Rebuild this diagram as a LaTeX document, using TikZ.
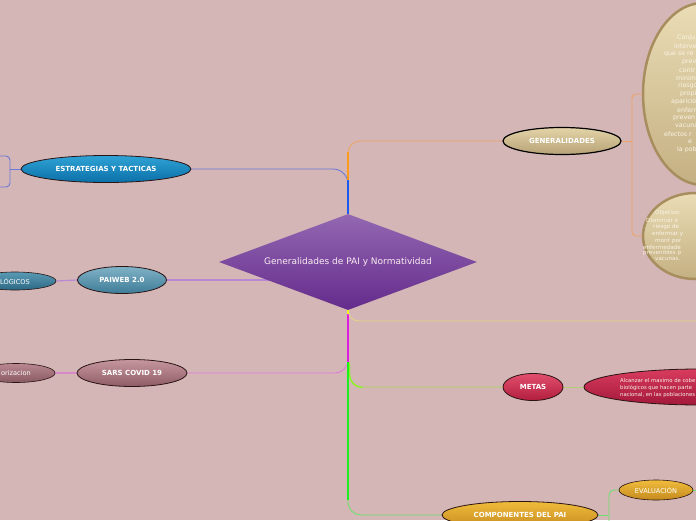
\documentclass[tikz,border=0pt]{standalone}
\usepackage{fontspec}
\setmainfont{DejaVu Sans}
\usetikzlibrary{shapes.geometric}
\pgfdeclarelayer{bg}
\pgfsetlayers{bg,main}
\definecolor{bgc}{HTML}{D4B6B6}
\definecolor{dtop}{HTML}{9368B2}
\definecolor{dbot}{HTML}{642B8C}
\definecolor{cBlue}{HTML}{1E5AF0}
\definecolor{cBlueL}{HTML}{6C78D8}
\definecolor{cOra}{HTML}{FF9A1A}
\definecolor{cOraL}{HTML}{EEA468}
\definecolor{cMag}{HTML}{E01EE0}
\definecolor{cMagL}{HTML}{E07AD8}
\definecolor{cYel}{HTML}{F2F21E}
\definecolor{cYelL}{HTML}{E4D488}
\definecolor{cGrn}{HTML}{1EF01E}
\definecolor{cGrnL}{HTML}{6EE06E}
\definecolor{cYG}{HTML}{88F428}
\definecolor{cYGL}{HTML}{B4CC74}
\definecolor{cPur}{HTML}{B888D4}
\definecolor{cPnk}{HTML}{D88AC8}
\definecolor{txtc}{HTML}{FAF4E6}
\definecolor{estT}{HTML}{2FA3D6}
\definecolor{estB}{HTML}{0B6FA8}
\definecolor{paiT}{HTML}{80B2C6}
\definecolor{paiB}{HTML}{3E7C98}
\definecolor{logT}{HTML}{5A9AB5}
\definecolor{logB}{HTML}{2C6883}
\definecolor{sarT}{HTML}{C6979F}
\definecolor{sarB}{HTML}{8F5C66}
\definecolor{priT}{HTML}{B88790}
\definecolor{priB}{HTML}{8A5A63}
\definecolor{genT}{HTML}{E3D4A8}
\definecolor{genB}{HTML}{B6A276}
\definecolor{bigT}{HTML}{EADCB5}
\definecolor{bigB}{HTML}{C4B082}
\definecolor{bigD}{HTML}{A88E5E}
\definecolor{metT}{HTML}{E24E6E}
\definecolor{metB}{HTML}{B21E3E}
\definecolor{mbT}{HTML}{D83C5E}
\definecolor{mbB}{HTML}{A3183A}
\definecolor{golT}{HTML}{F0BC3C}
\definecolor{golB}{HTML}{C58A1E}
\definecolor{edge}{HTML}{2A1414}
\begin{document}
\begin{tikzpicture}[x=1pt,y=-1pt,
  bub/.style={ellipse, draw=edge, line width=0.8pt, inner sep=0pt, text=white,
    font=\bfseries\fontsize{7}{8}\selectfont},
  smallbub/.style={ellipse, draw=edge, line width=0.6pt, inner sep=0pt, text=white,
    font=\fontsize{6.6}{7}\selectfont},
  bigbub/.style={ellipse, draw=bigD, line width=2.5pt, inner sep=0pt,
    top color=bigT, bottom color=bigB},
  frag1/.style={anchor=west, inner sep=0pt, text=txtc, font=\fontsize{6.3}{7}\selectfont},
  frag2/.style={anchor=west, inner sep=0pt, text=txtc, font=\fontsize{5.6}{6}\selectfont},
  frag3/.style={anchor=west, inner sep=0pt, text=txtc, font=\fontsize{5.3}{6}\selectfont},
  thinline/.style={line width=0.9pt},
  spine/.style={line width=2.2pt}
]
\useasboundingbox (0,0) rectangle (696,520);
\begin{scope}
\clip (0,0) rectangle (696,520);

% central diamond
\node[diamond, aspect=2.68, minimum width=258pt, minimum height=96pt, inner sep=0pt,
  top color=dtop, bottom color=dbot, text=white!92!purple,
  font=\fontsize{9}{10}\selectfont] (dia) at (348,262) {Generalidades de PAI y Normatividad};

% left branch nodes
\node[bub, minimum width=170pt, minimum height=27pt, top color=estT, bottom color=estB] (estr) at (106,169) {ESTRATEGIAS Y TACTICAS};
\node[bub, minimum width=89pt, minimum height=27pt, top color=paiT, bottom color=paiB] (paiweb) at (122,280) {PAIWEB 2.0};
\node[smallbub, minimum width=82pt, minimum height=18pt, top color=logT, bottom color=logB] (logi) at (15,281) {LÓGICOS};
\node[bub, minimum width=110pt, minimum height=27pt, top color=sarT, bottom color=sarB] (sars) at (132,373) {SARS COVID 19};
\node[smallbub, minimum width=78pt, minimum height=19pt, top color=priT, bottom color=priB] (prio) at (16,373) {orizacion};

% right branch nodes
\node[bub, line width=1.2pt, draw=black, minimum width=118pt, minimum height=27pt, top color=genT, bottom color=genB] (gen) at (562,141) {GENERALIDADES};
\node[bigbub, minimum width=120pt, minimum height=182pt] (big1) at (703,94) {};
\node[bigbub, minimum width=104pt, minimum height=86pt] (big2) at (695,236) {};
\node[bub, minimum width=60pt, minimum height=27pt, top color=metT, bottom color=metB] (metas) at (533,387) {METAS};
\node[bub, minimum width=232pt, minimum height=36pt, top color=mbT, bottom color=mbB] (mbig) at (700,387) {};
\node[bub, minimum width=156pt, minimum height=27pt, top color=golT, bottom color=golB] (comp) at (520,515) {COMPONENTES DEL PAI};
\node[smallbub, minimum width=74pt, minimum height=20pt, top color=golT, bottom color=golB] (eval) at (656,490) {EVALUACIÓN};

% text fragments big1
\node[frag1] (a1) at (677,38) {Conju};
\node[frag1] (a2) at (674,46) {interve};
\node[frag1] (a3) at (664,54) {que se re};
\node[frag1] (a4) at (682,62) {prev};
\node[frag1] (a5) at (679,70) {contr};
\node[frag1] (a6) at (676,78) {minim};
\node[frag1] (a7) at (678,86) {riesgo};
\node[frag1] (a8) at (680,94) {propi};
\node[frag1] (a9) at (671,102) {aparició};
\node[frag1] (a10) at (677,110) {enferm};
\node[frag1] (a11) at (673,118) {preven};
\node[frag1] (a12) at (675,126) {vacuna};
\node[frag1] (a13) at (664,134) {efectos r};
\node[frag1] (a14) at (688,142) {e};
\node[frag1] (a15) at (677,150) {la pob};

% text fragments big2
\node[frag2] (b1) at (655,213) {Objetivo:};
\node[frag2] (b2) at (646,220) {Disminuir e};
\node[frag2] (b3) at (653,227) {riesgo de};
\node[frag2] (b4) at (652,234) {enfermar y};
\node[frag2] (b5) at (655,241) {morir por};
\node[frag2] (b6) at (643,247) {enfermedade};
\node[frag2] (b7) at (643,253) {prevenibles p};
\node[frag2] (b8) at (655,259) {vacunas.};

% text fragments metas big
\node[frag3] (c1) at (620,381) {Alcanzar el maximo de cobe};
\node[frag3] (c2) at (620,388) {biológicos que hacen parte};
\node[frag3] (c3) at (620,395) {nacional, en las poblaciones};

% free-end coordinates
\coordinate (jTop) at (348,180);
\coordinate (jMid) at (348,362);
\coordinate (jYG) at (349.5,363);
\coordinate (rEdge) at (700,321);
\coordinate (lm) at (10,169);
\coordinate (lt) at (-5,156);
\coordinate (lb) at (-5,187);
\coordinate (brk) at (632,141);
\coordinate (cB) at (609,526);
\coordinate (eR) at (702,490);
\end{scope}

\begin{pgfonlayer}{bg}
\fill[bgc] (0,0) rectangle (696,520);
\begin{scope}
\clip (0,0) rectangle (696,520);
% blue branch
\draw[cBlueL, thinline, rounded corners=15pt] (dia.north) |- (estr.east);
\draw[cBlue, spine] (dia.north) -- (jTop);
% orange branch
\draw[cOraL, thinline, rounded corners=12pt] (jTop) |- (gen.west);
\draw[cOra, spine] (jTop) -- (348,152);
% paiweb
\draw[cPur, line width=1.2pt] (paiweb.east) -- (paiweb.east -| dia.center);
\draw[cPur, line width=1.2pt] (logi.east) -- (paiweb.west);
% magenta branch
\draw[cMagL, thinline, rounded corners=13pt] (dia.south) |- (sars.east);
\draw[cMag, spine] (dia.south) -- (jMid);
\draw[cPnk, line width=1.2pt] (prio.east) -- (sars.west);
% yellow branch
\draw[cYelL, thinline, rounded corners=11pt] (dia.south) |- (rEdge);
\draw[cYel, line width=1.4pt] (dia.south) -- (348,314);
% yellow-green branch
\draw[cYGL, line width=1pt, rounded corners=13pt] (jYG) |- (metas.west);
\draw[cYG, line width=1.3pt, rounded corners=13pt] (jYG) |- (362,387.5);
\draw[cYGL, line width=1pt] (metas.east) -- (mbig.west);
% green branch
\draw[cGrnL, thinline, rounded corners=13pt] (jMid) |- (comp.west);
\draw[cGrn, spine] (jMid) -- (348,500);
% componentes -> evaluacion
\draw[cGrnL, thinline] (comp.east) -- (comp.east -| cB);
\draw[cGrnL, thinline, rounded corners=5pt] (eval.west) -| (cB);
\draw[cGrnL, thinline] (eval.east) -- (eR);
% estrategias bracket
\draw[cBlueL, thinline] (estr.west) -- (lm);
\draw[cBlueL, thinline, rounded corners=4pt] (lt) -| (lm) |- (lb);
% generalidades bracket
\draw[cOraL, thinline] (gen.east) -- (brk);
\draw[cOraL, thinline, rounded corners=4pt] (big1.west) -| (brk) |- (big2.west);
\end{scope}
\end{pgfonlayer}
\end{tikzpicture}
\end{document}
